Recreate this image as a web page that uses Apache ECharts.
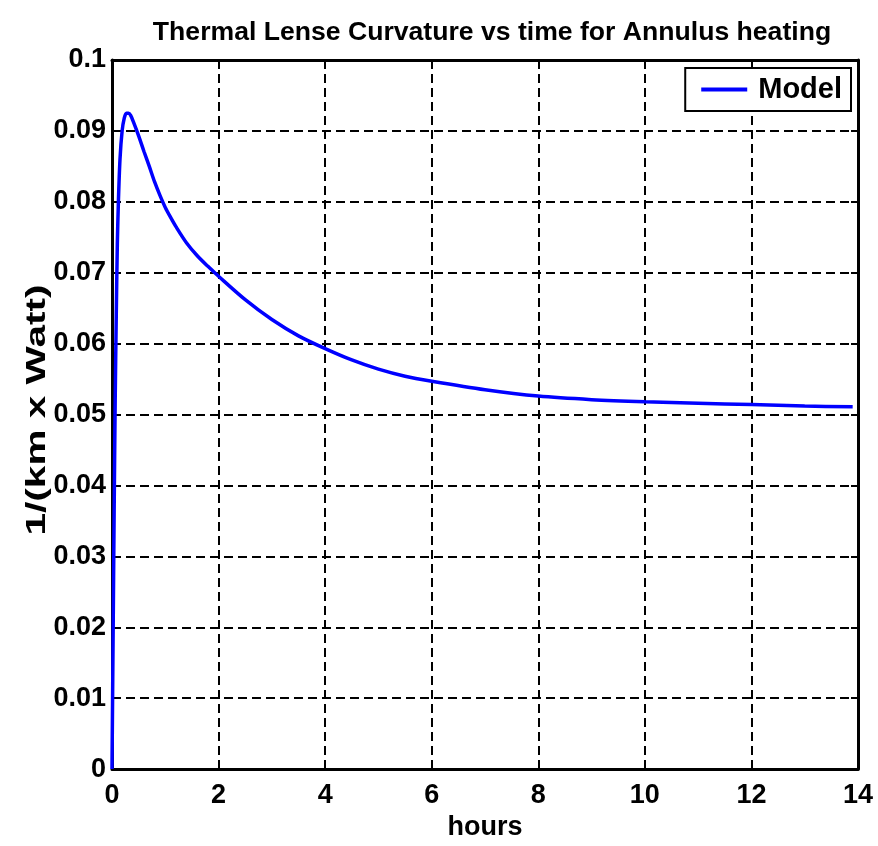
<!DOCTYPE html>
<html>
<head>
<meta charset="utf-8">
<script src="https://cdn.jsdelivr.net/npm/echarts@6/dist/echarts.min.js"></script>
<style>
  html, body { margin: 0; padding: 0; background: #fff; }
  #chart { width: 878px; height: 846px; }
</style>
</head>
<body>
<div id="chart"></div>
<script>
// time in hours
const hours = [0, 0.02, 0.04, 0.06, 0.08, 0.10, 0.12, 0.15, 0.19, 0.23, 0.27, 0.31, 0.35, 0.40,
  0.50, 0.60, 0.70, 0.80, 0.90, 1.0, 1.1, 1.2, 1.4, 1.6, 1.8, 2.0, 2.5, 3.0, 3.5, 4.0, 4.5,
  5.0, 5.5, 6.0, 7.0, 8.0, 9.0, 10.0, 11.0, 12.0, 13.0, 13.9]
// curvature 1/(km x Watt)
const model = [0, 0.018, 0.036, 0.052, 0.064, 0.074, 0.080, 0.086, 0.090, 0.0918, 0.0925, 0.0925, 0.0922, 0.0913,
  0.0893, 0.0871, 0.0850, 0.0828, 0.0809, 0.0792, 0.0778, 0.0765, 0.0742, 0.0724, 0.0709, 0.0695, 0.0662, 0.0634, 0.0611, 0.0593, 0.0577,
  0.0564, 0.0554, 0.0547, 0.0535, 0.0526, 0.0521, 0.0518, 0.0516, 0.0514, 0.0512, 0.0511]
const xTicks = [0, 2, 4, 6, 8, 10, 12, 14]
const yTicks = [0, 0.01, 0.02, 0.03, 0.04, 0.05, 0.06, 0.07, 0.08, 0.09, 0.1]

const chart = echarts.init(document.getElementById('chart'))
const font = 'Liberation Sans, Arial, sans-serif'
const dashed = { show: true, lineStyle: { color: '#000', width: 2, type: [9, 5] } }
const axisLine = { show: true, onZero: false, lineStyle: { color: '#000', width: 3 } }
const tick = { show: true, inside: true, length: 7, lineStyle: { color: '#000', width: 2 } }

chart.setOption({
  animation: false,
  backgroundColor: '#fff',
  title: {
    text: 'Thermal Lense Curvature vs time for Annulus heating',
    left: 487,
    textAlign: 'center',
    top: 14,
    textStyle: { fontFamily: font, fontSize: 26.6, fontWeight: 'bold', color: '#000' }
  },
  // y axis title, stretched along its length like the original
  graphic: [
    {
      type: 'text',
      x: 37,
      y: 410,
      rotation: Math.PI / 2,
      scaleX: 1.45,
      style: {
        text: '1/(km x Watt)',
        fontFamily: font,
        fontSize: 28,
        fontWeight: 'bold',
        fill: '#000',
        align: 'center',
        verticalAlign: 'middle'
      }
    }
  ],
  legend: {
    data: ['Model'],
    right: 27,
    top: 68,
    padding: [7, 9, 7, 16],
    itemWidth: 46,
    itemHeight: 4,
    itemGap: 14,
    borderColor: '#000',
    borderWidth: 2,
    backgroundColor: '#fff',
    icon: 'rect',
    textStyle: { fontFamily: font, fontSize: 29, fontWeight: 'bold', color: '#000', padding: [0, 0, 0, 6] }
  },
  grid: { left: 112, right: 20, top: 60, bottom: 73 },
  xAxis: [
    {
      type: 'value', min: 0, max: 14, interval: 2,
      name: 'hours', nameLocation: 'middle', nameGap: 39,
      nameTextStyle: { fontFamily: font, fontSize: 27, fontWeight: 'bold', color: '#000' },
      axisLine: axisLine, axisTick: tick,
      axisLabel: { fontFamily: font, fontSize: 27, fontWeight: 'bold', color: '#000', margin: 13,
        formatter: v => xTicks.includes(v) ? String(v) : '' },
      splitLine: dashed
    },
    {
      type: 'value', position: 'top', min: 0, max: 14, interval: 2,
      axisLine: axisLine, axisTick: tick, axisLabel: { show: false }, splitLine: { show: false }
    }
  ],
  yAxis: [
    {
      type: 'value', min: 0, max: 0.1, interval: 0.01,
      axisLine: axisLine, axisTick: tick,
      axisLabel: { fontFamily: font, fontSize: 27, fontWeight: 'bold', color: '#000', margin: 6,
        formatter: v => {
          const t = yTicks.find(k => Math.abs(k - v) < 1e-9)
          return t === undefined ? '' : String(+t.toFixed(2))
        } },
      splitLine: dashed
    },
    {
      type: 'value', position: 'right', min: 0, max: 0.1, interval: 0.01,
      axisLine: axisLine, axisTick: tick, axisLabel: { show: false }, splitLine: { show: false }
    }
  ],
  series: [
    {
      name: 'Model',
      type: 'line',
      data: hours.map((h, i) => [h, model[i]]),
      showSymbol: false,
      smooth: 0.3,
      lineStyle: { color: '#0000ff', width: 3.5 },
      itemStyle: { color: '#0000ff' },
      z: 5
    }
  ]
})
</script>
</body>
</html>
